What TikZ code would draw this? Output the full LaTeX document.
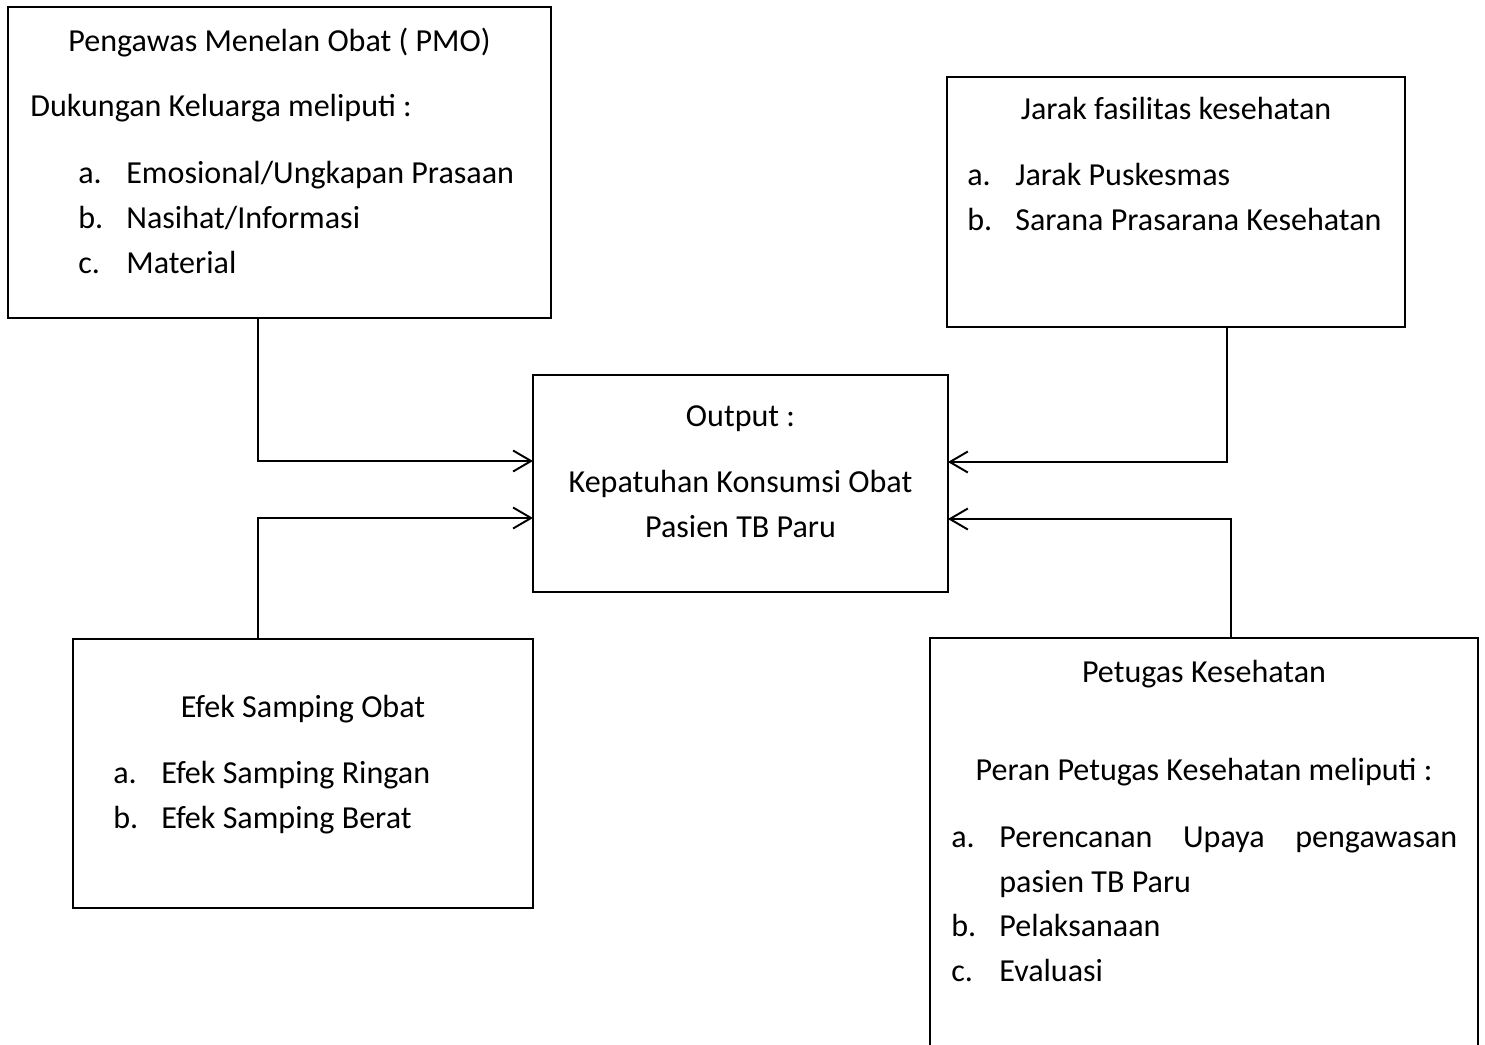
\documentclass[tikz,border=0pt]{standalone}
\usepackage{fontspec}
\setmainfont{Carlito}
\usetikzlibrary{arrows.meta}

\begin{document}
\begin{tikzpicture}[x=0.02cm, y=-0.02cm,
    box/.style={rectangle, draw, line width=1.1pt, inner sep=0, outer sep=0, anchor=north west},
    txt/.style={inner sep=0, font=\fontsize{18.25pt}{25pt}\selectfont},
    conn/.style={line width=1.1pt, -{Straight Barb[length=0.36cm, width=0.42cm, line width=1.1pt]}}]
    \useasboundingbox (0,0) rectangle (1485,1045);
    \clip (0,0) rectangle (1485,1045);
    \node[box, minimum width=10.86cm, minimum height=6.22cm](pmo) at (8,7){};
    \node[box, minimum width=9.16cm, minimum height=5cm](jarak) at (947,77){};
    \node[box, minimum width=8.3cm, minimum height=4.34cm](out) at (533,375){};
    \node[box, minimum width=9.2cm, minimum height=5.38cm](efek) at (73,639){};
    \node[box, minimum width=10.96cm, minimum height=8.8cm](petugas) at (930,638){};

    \node[txt, anchor=base](pmo0) at (279.5,51.5){Pengawas Menelan Obat ( PMO)};
    \node[txt, anchor=base west](pmo1) at (30,116.5){Dukungan Keluarga meliputi :};
    \node[txt, anchor=base west](pmoa) at (78,183){a.};
    \node[txt, anchor=base west](pmoat) at (126,183){Emosional/Ungkapan Prasaan};
    \node[txt, anchor=base west](pmob) at (78,228){b.};
    \node[txt, anchor=base west](pmobt) at (126,228){Nasihat/Informasi};
    \node[txt, anchor=base west](pmoc) at (78,273){c.};
    \node[txt, anchor=base west](pmoct) at (126,273){Material};

    \node[txt, anchor=base](jarak0) at (1176,119.8){Jarak fasilitas kesehatan};
    \node[txt, anchor=base west](jaraka) at (967,185.8){a.};
    \node[txt, anchor=base west](jarakat) at (1015,185.8){Jarak Puskesmas};
    \node[txt, anchor=base west](jarakb) at (967,230.8){b.};
    \node[txt, anchor=base west](jarakbt) at (1015,230.8){Sarana Prasarana Kesehatan};

    \node[txt, anchor=base](out0) at (740.5,426.5){Output :};
    \node[txt, anchor=base](out1) at (740.5,492.2){Kepatuhan Konsumsi Obat};
    \node[txt, anchor=base](out2) at (740.5,537.2){Pasien TB Paru};

    \node[txt, anchor=base](efek0) at (303,717.5){Efek Samping Obat};
    \node[txt, anchor=base west](efeka) at (113,783.2){a.};
    \node[txt, anchor=base west](efekat) at (161,783.2){Efek Samping Ringan};
    \node[txt, anchor=base west](efekb) at (113,828){b.};
    \node[txt, anchor=base west](efekbt) at (161,828){Efek Samping Berat};

    \node[txt, anchor=base](pet0) at (1204,682.2){Petugas Kesehatan};
    \node[txt, anchor=base](pet1) at (1204,780.2){Peran Petugas Kesehatan meliputi :};
    \node[txt, anchor=base west](peta) at (951,847.5){a.};
    \node[txt, anchor=base west](petat) at (999,847.5){\makebox[9.16cm][s]{Perencanan Upaya pengawasan}};
    \node[txt, anchor=base west](petat2) at (999,892){pasien TB Paru};
    \node[txt, anchor=base west](petb) at (951,936.5){b.};
    \node[txt, anchor=base west](petbt) at (999,936.5){Pelaksanaan};
    \node[txt, anchor=base west](petc) at (951,981.5){c.};
    \node[txt, anchor=base west](petct) at (999,981.5){Evaluasi};

    \coordinate (pa) at (258,461);
    \coordinate (pb) at (258,518);
    \coordinate (pc) at (1227,462);
    \coordinate (pd) at (1231,519);
    \draw[conn](pa |- pmo.south) |- (pa -| out.west);
    \draw[conn](pb |- efek.north) |- (pb -| out.west);
    \draw[conn](pc |- jarak.south) |- (pc -| out.east);
    \draw[conn](pd |- petugas.north) |- (pd -| out.east);
\end{tikzpicture}
\end{document}
